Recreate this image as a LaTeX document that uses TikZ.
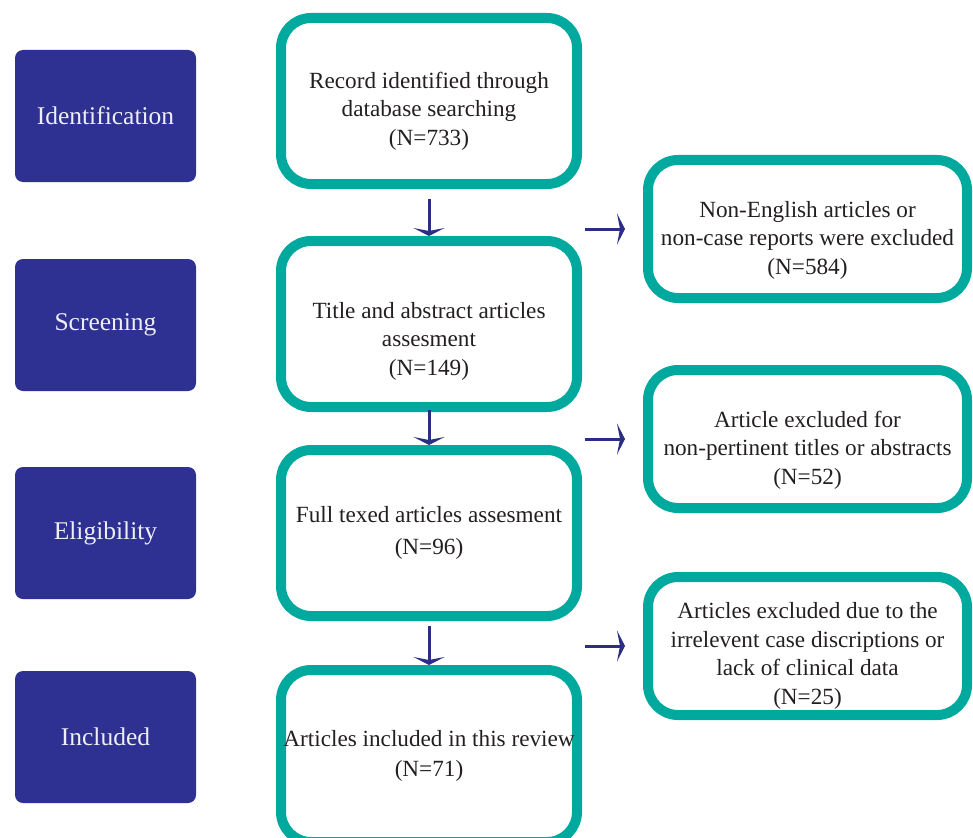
\documentclass[tikz,border=0pt]{standalone}
\usepackage{fontspec}
\setmainfont{Liberation Serif}
\usetikzlibrary{arrows.meta}
\definecolor{stageblue}{HTML}{2E3192}
\definecolor{boxteal}{HTML}{00A99D}
\definecolor{arrowblue}{HTML}{2B2E83}
\definecolor{textgray}{HTML}{231F20}
\newcommand{\toppad}[1]{\rule{0pt}{#1}}

\begin{document}
\begin{tikzpicture}[x=1pt,y=-1pt,font=\fontsize{23.2}{28.5}\selectfont]
        \useasboundingbox (0,0) rectangle (973,837);

        \begin{scope}[every node/.style={rectangle,rounded corners=8pt,fill=stageblue,text=stageblue!8,
            minimum width=181pt,minimum height=132pt,font=\fontsize{25.5}{30}\selectfont}]
          \node (ident)  at (105.5,116) {Identification};
          \node (screen) at (105.5,325) {Screening};
          \node (elig)   at (105.5,533) {Eligibility};
          \node (incl)   at (105.5,737) {Included};
        \end{scope}

        \begin{scope}[every node/.style={rectangle,rounded corners=30pt,draw=boxteal,line width=10pt,
            text=textgray,align=center,inner xsep=0pt}]
          \node[minimum width=296pt,minimum height=166pt] (record) at (429,101)
            {\toppad{36pt}Record identified through\\database searching\\(N=733)};
          \node[minimum width=296pt,minimum height=166pt] (title)  at (429,324)
            {\toppad{50pt}Title and abstract articles\\assesment\\(N=149)};
          \node[minimum width=296pt,minimum height=166pt] (full)   at (429,533)
            {Full texed articles assesment\\[3pt](N=96)};
          \node[minimum width=296pt,minimum height=172pt] (review) at (429,756)
            {Articles included in this review\\[1pt](N=71)};
          \node[minimum width=319pt,minimum height=138pt] (nonen)  at (807.5,229)
            {\toppad{38pt}Non-English articles or\\non-case reports were excluded\\(N=584)};
          \node[minimum width=319pt,minimum height=138pt] (pertin) at (807.5,439)
            {\toppad{38pt}Article excluded for\\non-pertinent titles or abstracts\\(N=52)};
          \node[minimum width=319pt,minimum height=138pt] (irrel)  at (807.5,646)
            {\toppad{36pt}Articles excluded due to the\\irrelevent case discriptions or\\lack of clinical data\\(N=25)};
        \end{scope}

        \begin{scope}[every edge/.style={draw=arrowblue,line width=3pt,
            -{Stealth[length=8pt,width=31pt,inset=3pt]}}]
          \path (record) edge[shorten <=10pt] (title);
          \path (title)  edge[shorten <=-2pt] (full);
          \path (full)   edge[shorten <=5pt] (review);
          \path (title.east |- nonen)  edge[shorten <=3pt,shorten >=18pt] (nonen);
          \path (full.east |- pertin)  edge[shorten <=3pt,shorten >=18pt] (pertin);
          \path (review.east |- irrel) edge[shorten <=3pt,shorten >=18pt] (irrel);
        \end{scope}

      \end{tikzpicture}
\end{document}
